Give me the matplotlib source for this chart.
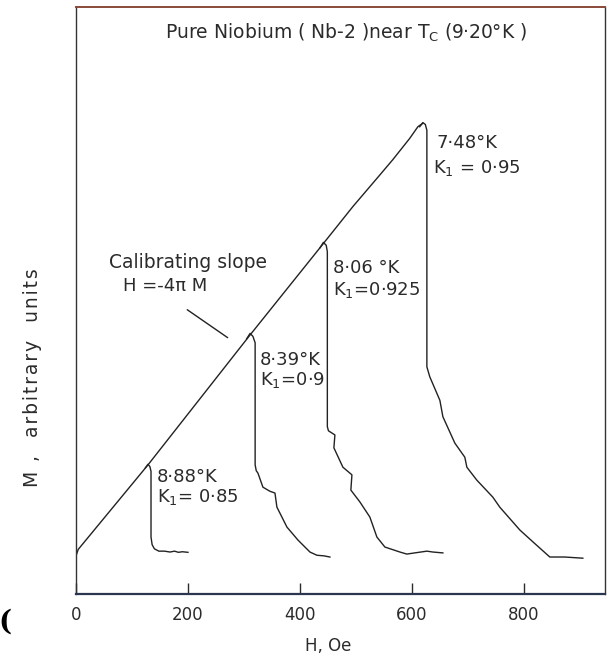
import matplotlib
matplotlib.use("Agg")
import matplotlib.pyplot as plt

plt.rcParams["font.family"] = ["DejaVu Sans"]
plt.rcParams["mathtext.fontset"] = "dejavusans"

# Calibrating slope (H = -4*pi*M), field in Oe, magnetisation in arbitrary units
calib_H = [0, 4, 128.6, 310.7, 441, 494.6, 542.9, 566, 596, 610.7, 619.6]
calib_M = [6.5, 7.6, 22.0, 44.1, 59.6, 66.0, 71.4, 74.0, 77.6, 79.6, 80.2]

# Magnetisation curves at each temperature
h_888 = [124, 128.6, 132, 134, 134, 136, 140, 148, 158, 168, 176, 183, 190, 200]
m_888 = [21.5, 22.1, 21.7, 20.9, 9.7, 8.4, 7.7, 7.3, 7.3, 7.15, 7.3, 7.1, 7.2, 7.1]

h_839 = [305, 311, 316, 320, 320, 322, 325, 333.9, 346.4, 355.4, 358.9, 376.8,
         396.4, 417.9, 430.4, 442.9, 453.6]
m_839 = [43.5, 44.4, 43.9, 42.8, 22.0, 21.0, 20.6, 18.2, 17.5, 17.2, 14.8, 11.4,
         9.2, 7.15, 6.6, 6.5, 6.3]

h_806 = [436, 442, 447, 449, 449, 451, 462.5, 460.7, 476.8, 492.9, 491, 507, 525,
         537.5, 551.8, 578.6, 591, 605, 626.8, 637.5, 655.4]
m_806 = [59.0, 59.9, 59.4, 58.3, 28.5, 27.8, 27.1, 24.9, 21.6, 20.3, 17.7, 15.7, 13.1,
         9.7, 8.0, 7.15, 6.8, 7.0, 7.3, 7.15, 7.0]

h_748 = [614, 619.6, 624, 626.8, 626.8, 632, 650, 655.4, 676.8, 694.6, 698.2, 716,
         744.6, 757, 792.9, 816, 846.4, 873, 905.4]
m_748 = [79.6, 80.3, 80.0, 79.0, 38.7, 37.0, 33.0, 30.2, 25.7, 23.3, 21.6, 19.4,
         16.5, 14.8, 10.9, 8.9, 6.3, 6.3, 6.1]

x_ticks = [0, 200, 400, 600, 800]
x_tick_labels = ["0", "200", "400", "600", "800"]

curve_labels = [
    ("7·48°K", r"K$_\mathregular{1}$ = 0·95", 644.6, 76.8, 637.5, 72.6),
    ("8·06 °K", r"K$_\mathregular{1}$=0·925", 459, 55.5, 459, 51.8),
    ("8·39°K", r"K$_\mathregular{1}$=0·9", 328.6, 39.9, 328.6, 36.5),
    ("8·88°K", r"K$_\mathregular{1}$= 0·85", 144.6, 19.9, 144.6, 16.5),
]

y_title_words = ["M ,", "arbitrary", "units"]


def tracked(words, gap="\u200a"):
    """Spread the letters of each word with hair spaces (lettering-style tracking)."""
    return "   ".join(gap.join(w) for w in words)


ink = "#222222"
text_ink = "#2b2b2b"

fig = plt.figure(figsize=(6.08, 6.58), dpi=100)
ax = fig.add_axes([76 / 608, 1 - 594 / 658, (605 - 76) / 608, (594 - 7) / 658])

lw = 1.0
ax.plot(calib_H, calib_M, color=ink, lw=lw, solid_joinstyle="round")
for hh, mm in [(h_888, m_888), (h_839, m_839), (h_806, m_806), (h_748, m_748)]:
    ax.plot(hh, mm, color=ink, lw=lw, solid_joinstyle="round")

ax.set_xlim(0, 945)
ax.set_ylim(0, 100)

ax.set_xticks(x_ticks)
ax.set_xticklabels(x_tick_labels)
ax.set_yticks([])
ax.tick_params(axis="x", direction="in", length=8, width=1.0, pad=9,
               labelsize=12, colors=text_ink)

for side in ["left", "right"]:
    ax.spines[side].set_linewidth(1.0)
    ax.spines[side].set_color("#333333")
ax.spines["bottom"].set_linewidth(1.6)
ax.spines["bottom"].set_color("#2a3550")
ax.spines["top"].set_linewidth(1.4)
ax.spines["top"].set_color("#8a4a3a")

# Title inside the frame
ax.text(482, 95.6, r"Pure Niobium ( Nb-2 )near T$_\mathregular{C}$ (9·20°K )",
        ha="center", va="center", fontsize=13.5, color=text_ink)

# Temperature / kappa labels beside each drop
for t1, t2, x1, y1, x2, y2 in curve_labels:
    ax.text(x1, y1, t1, ha="left", va="center", fontsize=13, color=text_ink)
    ax.text(x2, y2, t2, ha="left", va="center", fontsize=13, color=text_ink)

# Calibrating slope note with its pointer
ax.text(58.9, 56.4, "Calibrating slope", ha="left", va="center", fontsize=13.5,
        color=text_ink)
ax.text(83.9, 52.5, "H =-4π M", ha="left", va="center", fontsize=13, color=text_ink)
ax.annotate("", xy=(275, 43.4), xytext=(194.6, 48.7),
            arrowprops=dict(arrowstyle="-", color=ink, lw=1.0))

# Axis titles
fig.text(33 / 608, 1 - 378 / 658, tracked(y_title_words), rotation=90,
         ha="center", va="center", fontsize=13.5, color=text_ink)
fig.text(328 / 608, 1 - 646 / 658, "H, Oe", ha="center", va="center",
         fontsize=12, color=text_ink)

# Edge of a neighbouring character on the page
fig.text(-0.002, 1 - 622 / 658, "(", ha="left", va="center", fontsize=20,
         fontweight="bold", family="DejaVu Serif", color="black")

fig.savefig("out.png", dpi=100)
